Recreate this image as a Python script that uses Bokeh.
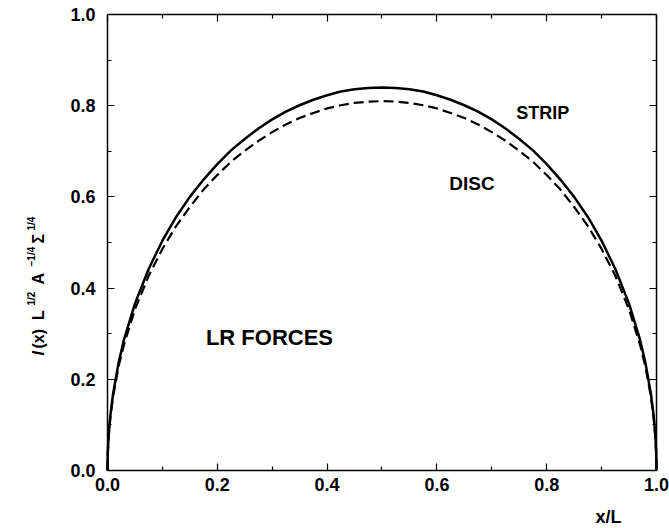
import math
from bokeh.plotting import figure
from bokeh.models import Range1d, FixedTicker, LinearAxis, Label
from bokeh.embed import file_html
from bokeh.resources import INLINE

# ---- data ----
x_vals = [0.0, 0.0005, 0.002, 0.005, 0.01, 0.02, 0.03, 0.05, 0.075, 0.1,
          0.125, 0.15, 0.175, 0.2, 0.225, 0.25, 0.275, 0.3, 0.325, 0.35,
          0.375, 0.4, 0.425, 0.45, 0.475, 0.5,
          0.525, 0.55, 0.575, 0.6, 0.625, 0.65, 0.675, 0.7, 0.725, 0.75,
          0.775, 0.8, 0.825, 0.85, 0.875, 0.9, 0.925, 0.95, 0.97, 0.98,
          0.99, 0.995, 0.998, 0.9995, 1.0]
strip_vals = [0.0, 0.038, 0.075, 0.118, 0.167, 0.235, 0.287, 0.366, 0.442, 0.504,
              0.556, 0.600, 0.638, 0.672, 0.702, 0.727, 0.750, 0.770, 0.787, 0.801,
              0.813, 0.823, 0.831, 0.836, 0.839, 0.840,
              0.839, 0.836, 0.831, 0.823, 0.813, 0.801, 0.787, 0.770, 0.750, 0.727,
              0.702, 0.672, 0.638, 0.600, 0.556, 0.504, 0.442, 0.366, 0.287, 0.235,
              0.167, 0.118, 0.075, 0.038, 0.0]
disc_vals = [0.0, 0.036, 0.072, 0.114, 0.161, 0.227, 0.276, 0.353, 0.427, 0.486,
             0.536, 0.578, 0.616, 0.648, 0.677, 0.701, 0.723, 0.742, 0.759, 0.773,
             0.784, 0.794, 0.801, 0.806, 0.809, 0.810,
             0.809, 0.806, 0.801, 0.794, 0.784, 0.773, 0.759, 0.742, 0.723, 0.701,
             0.677, 0.648, 0.616, 0.578, 0.536, 0.486, 0.427, 0.353, 0.276, 0.227,
             0.161, 0.114, 0.072, 0.036, 0.0]

major_ticks = [0.0, 0.2, 0.4, 0.6, 0.8, 1.0]
minor_ticks = [0.1, 0.3, 0.5, 0.7, 0.9]
tick_labels = ["0.0", "0.2", "0.4", "0.6", "0.8", "1.0"]

FONT = "Liberation Sans"

# frame fills the canvas; the box axes sit at data 0 and 1
p = figure(width=669, height=528, output_backend="svg", toolbar_location=None,
           x_range=Range1d(-0.1949, 1.0237), y_range=Range1d(-0.1272, 1.0307),
           x_axis_location=None, y_axis_location=None,
           min_border_left=0, min_border_right=0, min_border_top=0, min_border_bottom=0)
p.grid.visible = False
p.outline_line_color = None
p.background_fill_color = "white"
p.border_fill_color = "white"

overrides = {v: s for v, s in zip(major_ticks, tick_labels)}

def make_axis(loc, show_labels):
    ax = LinearAxis(fixed_location=loc, bounds=(0, 1),
                    ticker=FixedTicker(ticks=major_ticks, minor_ticks=minor_ticks))
    ax.major_tick_in = 7
    ax.major_tick_out = 0
    ax.minor_tick_in = 4
    ax.minor_tick_out = 0
    ax.axis_line_width = 1.5
    ax.axis_line_color = "black"
    ax.major_tick_line_color = "black"
    ax.minor_tick_line_color = "black"
    ax.major_tick_line_width = 1.2
    ax.minor_tick_line_width = 1.2
    if show_labels:
        ax.major_label_overrides = overrides
        ax.major_label_text_font = FONT
        ax.major_label_text_font_size = "18px"
        ax.major_label_text_font_style = "bold"
        ax.major_label_text_color = "black"
    else:
        ax.major_label_text_color = None
    return ax

xb = make_axis(0, True)
xb.major_label_standoff = 8
yl = make_axis(0, True)
yl.major_label_standoff = 12
p.add_layout(xb, "below")
p.add_layout(yl, "left")
p.add_layout(make_axis(1, False), "above")
p.add_layout(make_axis(1, False), "right")

p.line(x_vals, strip_vals, line_width=2.5, line_color="black")
p.line(x_vals, disc_vals, line_width=2.2, line_color="black", line_dash="10 5")

def lab(x, y, text, size, style="bold", align="center", angle=0.0):
    p.add_layout(Label(x=x, y=y, text=text, text_font=FONT, text_font_size=size,
                       text_font_style=style, text_align=align,
                       text_baseline="alphabetic", angle=angle, text_color="black"))

lab(0.793, 0.785, "STRIP", "18px")
lab(0.664, 0.629, "DISC", "19px")
lab(0.295, 0.292, "LR FORCES", "22px")
lab(0.9126, -0.103, "x/L", "18px")

# rotated y-axis label pieces
xa = -0.1257
xs = -0.1384
rot = math.pi / 2
lab(xa, 0.2522, "l", "16px", style="bold italic", align="left", angle=rot)
lab(xa, 0.2675, "(x)", "16px", align="left", angle=rot)
lab(xa, 0.3300, "L", "16px", align="left", angle=rot)
lab(xs, 0.3618, "1/2", "10px", align="left", angle=rot)
lab(xa, 0.4079, "A", "16px", align="left", angle=rot)
lab(xs, 0.4474, "\u22121/4", "10px", align="left", angle=rot)
lab(xa, 0.4978, "\u03a3", "16px", align="left", angle=rot)
lab(xs, 0.5263, "1/4", "10px", align="left", angle=rot)

open("out.html", "w").write(file_html(p, INLINE))
